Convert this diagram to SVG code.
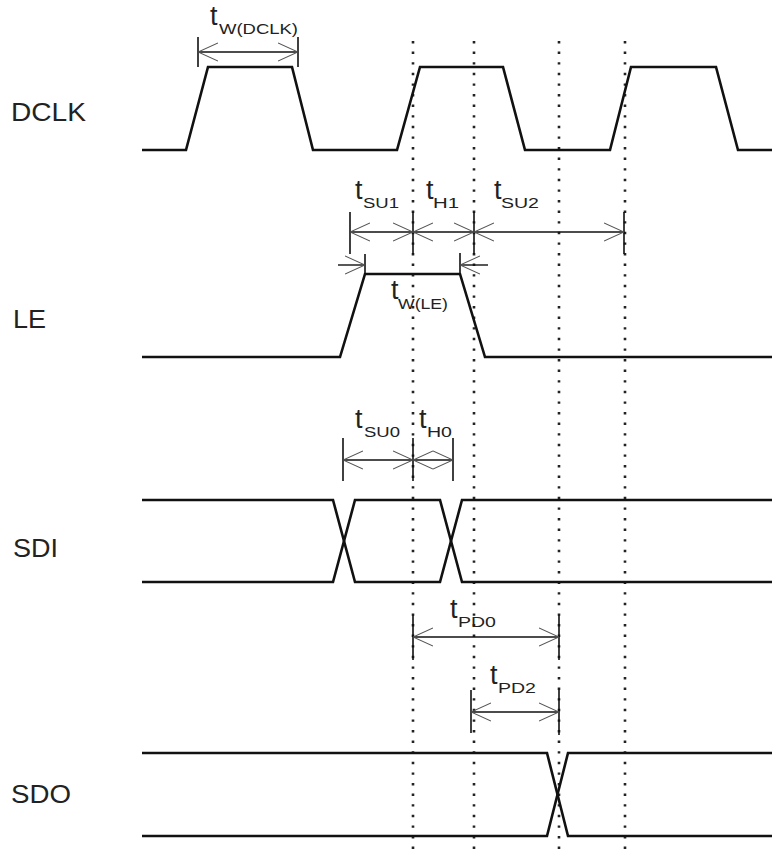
<svg xmlns="http://www.w3.org/2000/svg" width="772" height="850" viewBox="0 0 772 850">
<style>
.sig{fill:none;stroke:#111;stroke-width:2.6;stroke-linejoin:miter}
.dot{fill:none;stroke:#222;stroke-width:2.6;stroke-dasharray:2.4 8.2}
.dim{fill:none;stroke:#111;stroke-width:1.4}
.tick{fill:none;stroke:#111;stroke-width:1.6}
.lbl{font-family:"Liberation Sans",Arial,sans-serif;font-size:25px;fill:#222}
.t{font-family:"Liberation Sans",Arial,sans-serif;font-size:27px;fill:#222}
.sub{font-family:"Liberation Sans",Arial,sans-serif;font-size:14.5px;fill:#222}
</style>
<defs>
<marker id="ah" viewBox="0 0 20 20" refX="20" refY="10" markerWidth="20" markerHeight="20" markerUnits="userSpaceOnUse" orient="auto-start-reverse">
<path d="M0,1 L20,10 L0,19" fill="none" stroke="#555" stroke-width="1.1"/>
</marker>
</defs>
<rect width="772" height="850" fill="#fff"/>

<g id="labels">
<text class="lbl" x="11" y="121" textLength="75" lengthAdjust="spacingAndGlyphs">DCLK</text>
<text class="lbl" x="13" y="328" textLength="33" lengthAdjust="spacingAndGlyphs">LE</text>
<text class="lbl" x="13" y="557" textLength="45" lengthAdjust="spacingAndGlyphs">SDI</text>
<text class="lbl" x="11" y="803" textLength="60" lengthAdjust="spacingAndGlyphs">SDO</text>
</g>

<g id="gridlines">
<line class="dot" x1="413" y1="41" x2="413" y2="850"/>
<line class="dot" x1="474" y1="41" x2="474" y2="850"/>
<line class="dot" x1="559" y1="41" x2="559" y2="850"/>
<line class="dot" x1="625" y1="41" x2="625" y2="850"/>
</g>

<g id="dclk">
<polyline class="sig" points="142,150 186,150 208,67 292,67 313,150 397,150 420,67 503,67 525,150 610,150 631,67 716,67 738,150 772,150"/>
</g>
<g id="le">
<polyline class="sig" points="142,357 340,357 365,274 460,274 485,357 772,357"/>
</g>
<g id="sdi">
<polyline class="sig" points="142,500 333,500 355,582 440,582 462,500 772,500"/>
<polyline class="sig" points="142,582 333,582 355,500 440,500 462,582 772,582"/>
</g>
<g id="sdo">
<polyline class="sig" points="142,753 547,753 568,836 772,836"/>
<polyline class="sig" points="142,836 547,836 568,753 772,753"/>
</g>

<g id="connectors">
<line class="tick" x1="198" y1="37" x2="198" y2="67"/>
<line class="tick" x1="298" y1="37" x2="298" y2="67"/>
<line class="dim" x1="198" y1="52" x2="298" y2="52" marker-start="url(#ah)" marker-end="url(#ah)"/>
<line class="tick" x1="350" y1="212" x2="350" y2="254"/>
<line class="tick" x1="413" y1="212" x2="413" y2="254"/>
<line class="tick" x1="474" y1="212" x2="474" y2="254"/>
<line class="tick" x1="624" y1="212" x2="624" y2="254"/>
<line class="dim" x1="350" y1="232" x2="413" y2="232" marker-start="url(#ah)" marker-end="url(#ah)"/>
<line class="dim" x1="413" y1="232" x2="474" y2="232" marker-start="url(#ah)" marker-end="url(#ah)"/>
<line class="dim" x1="474" y1="232" x2="624" y2="232" marker-start="url(#ah)" marker-end="url(#ah)"/>
<line class="tick" x1="365" y1="254" x2="365" y2="274"/>
<line class="tick" x1="460" y1="253" x2="460" y2="275"/>
<line class="dim" x1="338" y1="265" x2="365" y2="265" marker-end="url(#ah)"/>
<line class="dim" x1="488" y1="265" x2="460" y2="265" marker-end="url(#ah)"/>
<line class="tick" x1="343" y1="438" x2="343" y2="481"/>
<line class="tick" x1="413" y1="438" x2="413" y2="481"/>
<line class="tick" x1="453" y1="438" x2="453" y2="481"/>
<line class="dim" x1="343" y1="460" x2="413" y2="460" marker-start="url(#ah)" marker-end="url(#ah)"/>
<line class="dim" x1="413" y1="460" x2="453" y2="460" marker-start="url(#ah)" marker-end="url(#ah)"/>
<line class="tick" x1="413" y1="615" x2="413" y2="660"/>
<line class="tick" x1="559" y1="615" x2="559" y2="660"/>
<line class="dim" x1="413" y1="637" x2="559" y2="637" marker-start="url(#ah)" marker-end="url(#ah)"/>
<line class="tick" x1="471" y1="690" x2="471" y2="733"/>
<line class="tick" x1="559" y1="690" x2="559" y2="735"/>
<line class="dim" x1="471" y1="712" x2="559" y2="712" marker-start="url(#ah)" marker-end="url(#ah)"/>
</g>

<g id="timing-labels">
<text class="t" x="210" y="25">t</text><text class="sub" x="219" y="34" textLength="79" lengthAdjust="spacingAndGlyphs">W(DCLK)</text>
<text class="t" x="355" y="199">t</text><text class="sub" x="363" y="208" textLength="36" lengthAdjust="spacingAndGlyphs">SU1</text>
<text class="t" x="426" y="199">t</text><text class="sub" x="433" y="208" textLength="26" lengthAdjust="spacingAndGlyphs">H1</text>
<text class="t" x="494" y="199">t</text><text class="sub" x="501" y="208" textLength="38" lengthAdjust="spacingAndGlyphs">SU2</text>
<text class="t" x="391" y="299">t</text><text class="sub" x="398" y="309" textLength="50" lengthAdjust="spacingAndGlyphs">W(LE)</text>
<text class="t" x="355" y="428">t</text><text class="sub" x="364" y="437" textLength="36" lengthAdjust="spacingAndGlyphs">SU0</text>
<text class="t" x="419" y="428">t</text><text class="sub" x="427" y="437" textLength="25" lengthAdjust="spacingAndGlyphs">H0</text>
<text class="t" x="450" y="618">t</text><text class="sub" x="458" y="627" textLength="38" lengthAdjust="spacingAndGlyphs">PD0</text>
<text class="t" x="490" y="684">t</text><text class="sub" x="498" y="693" textLength="38" lengthAdjust="spacingAndGlyphs">PD2</text>
</g>
</svg>
